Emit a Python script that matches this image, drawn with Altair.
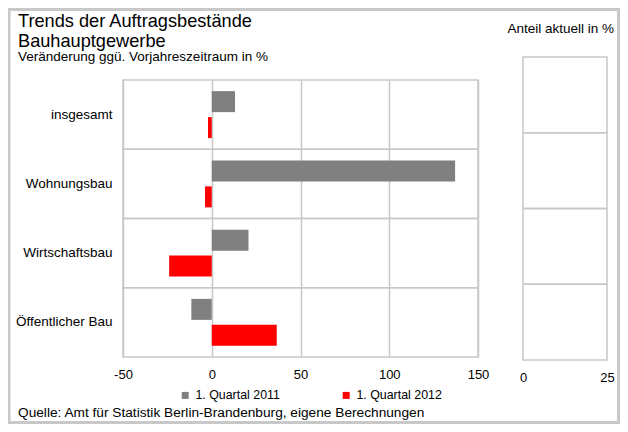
import altair as alt
import pandas as pd

categories = ["insgesamt", "Wohnungsbau", "Wirtschaftsbau", "Öffentlicher Bau"]
series = ["1. Quartal 2011", "1. Quartal 2012"]
q2011 = [13.1, 137.1, 20.7, -11.5]
q2012 = [-2.1, -3.8, -24.0, 36.6]
x_ticks = [-50, 0, 50, 100, 150]
share_ticks = [0, 25]

title_lines = ["Trends der Auftragsbestände", "Bauhauptgewerbe"]
subtitle = "Veränderung ggü. Vorjahreszeitraum in %"
share_title = "Anteil aktuell in %"
source = "Quelle: Amt für Statistik Berlin-Brandenburg, eigene Berechnungen"

FONT = "Liberation Sans"
GRID = "#c8c8c8"
W, H = 355, 277

rows = []
for c, a, b in zip(categories, q2011, q2012):
    rows.append({"Bereich": c, "Serie": series[0], "Wert": a})
    rows.append({"Bereich": c, "Serie": series[1], "Wert": b})
bars_df = pd.DataFrame(rows)
frame_df = pd.DataFrame({"Bereich": categories, "lo": [-50] * 4, "hi": [150] * 4})
share_df = pd.DataFrame({"Bereich": categories, "lo": [0] * 4, "hi": [25] * 4})
one = pd.DataFrame({"k": [0]})

x_axis = alt.Axis(values=x_ticks, title=None, ticks=False, domain=False, grid=True,
                  gridColor=GRID, gridWidth=1.5, labelFont=FONT, labelFontSize=13,
                  labelColor="#000", labelPadding=11, labelFlush=False,
                  labelExpr="'' + datum.value")
x_scale = alt.Scale(domain=[-50, 150], nice=False, zero=False)
y_axis = alt.Axis(title=None, ticks=False, domain=False, grid=False, labelFont=FONT,
                  labelFontSize=13.5, labelColor="#000", labelPadding=11)
y_scale = alt.Scale(domain=categories, paddingInner=0, paddingOuter=0)

frame = alt.Chart(frame_df).mark_rect(fillOpacity=0, stroke=GRID, strokeWidth=1.5).encode(
    x=alt.X("lo:Q", scale=x_scale, axis=x_axis),
    x2="hi:Q",
    y=alt.Y("Bereich:N", sort=categories, scale=y_scale, axis=y_axis),
)

bars = alt.Chart(bars_df).mark_bar().encode(
    x=alt.X("Wert:Q", scale=x_scale, axis=x_axis),
    y=alt.Y("Bereich:N", sort=categories, scale=y_scale, axis=y_axis),
    yOffset=alt.YOffset("Serie:N", sort=series,
                        scale=alt.Scale(paddingInner=0.192, paddingOuter=0.428)),
    color=alt.Color("Serie:N", sort=series,
                    scale=alt.Scale(domain=series, range=["#808080", "#ff0000"]),
                    legend=alt.Legend(orient="none", legendX=56, legendY=309,
                                      direction="horizontal", title=None,
                                      symbolType="square", symbolSize=49,
                                      symbolStrokeWidth=0, labelFont=FONT,
                                      labelFontSize=12.4, labelColor="#000",
                                      columnPadding=60, padding=0, labelOffset=4)),
)

left = alt.layer(frame, bars)

right = alt.Chart(share_df).mark_rect(fillOpacity=0, stroke=GRID, strokeWidth=1.5).encode(
    x=alt.X("lo:Q", scale=alt.Scale(domain=[0, 25], range=[400, 484], nice=False, zero=False),
            axis=alt.Axis(values=share_ticks, title=None, ticks=False, domain=False, grid=False,
                          labelFont=FONT, labelFontSize=13, labelColor="#000",
                          labelPadding=11, offset=3, orient="bottom", labelFlush=False)),
    x2="hi:Q",
    y=alt.Y("Bereich:N", sort=categories,
            scale=alt.Scale(domain=categories, range=[-23, 280], paddingInner=0, paddingOuter=0),
            axis=None),
)


def txt(s, x, y, size, align="left"):
    return alt.Chart(one).mark_text(align=align, baseline="alphabetic", font=FONT,
                                    fontSize=size, color="#000").encode(
        x=alt.value(x), y=alt.value(y), text=alt.value(s))


border = alt.Chart(one).mark_rect(fillOpacity=0, stroke=GRID, strokeWidth=3).encode(
    x=alt.value(-114), x2=alt.value(495.5), y=alt.value(-70.5), y2=alt.value(342.5))

texts = [
    txt(title_lines[0], -105, -53.3, 18.2),
    txt(title_lines[1], -105, -33.3, 18.2),
    txt(subtitle, -105, -19, 13.5),
    txt(share_title, 491, -46.7, 13.5, align="right"),
    txt(source, -105, 337, 13.7),
]

chart = alt.layer(left, right, border, *texts).resolve_scale(
    x="independent", y="independent", color="independent"
).properties(
    width=W, height=H,
    autosize=alt.AutoSizeParams(type="none"),
    padding={"left": 115, "top": 72, "right": 142, "bottom": 67},
    background="white",
).configure_view(strokeWidth=0)

chart.save("out.html", embed_options={"renderer": "svg", "actions": False})
